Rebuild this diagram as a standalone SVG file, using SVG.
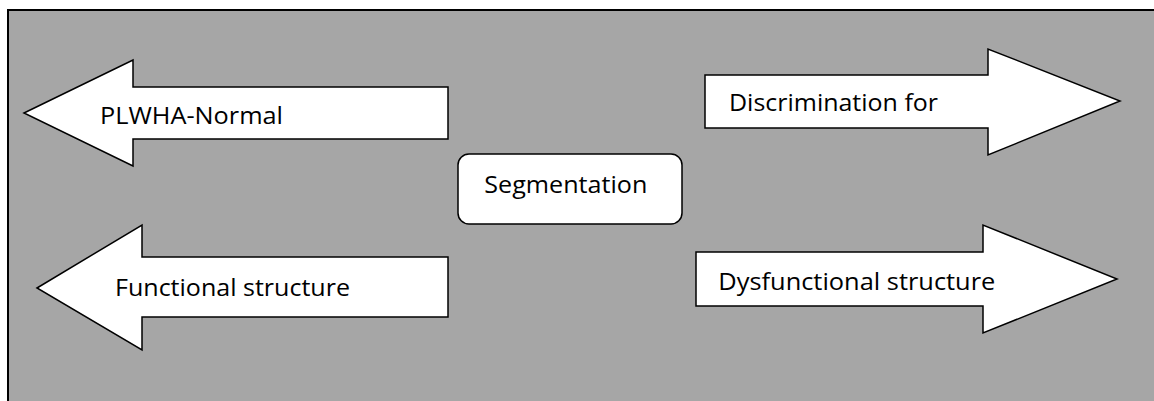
<svg xmlns="http://www.w3.org/2000/svg" width="1154" height="401" viewBox="0 0 1154 401">
<style>
.arrow{fill:#ffffff;stroke:#000000;stroke-width:1.5;stroke-linejoin:miter}
.lbl{font-family:"Open Sans","Liberation Sans",sans-serif;font-size:23px;fill:#000000}
</style>
<rect x="0" y="0" width="1154" height="401" fill="#ffffff"/>
<rect id="frame" x="8" y="10" width="1170" height="410" fill="#a6a6a6" stroke="#000000" stroke-width="2"/>
<g id="connectors"></g>
<g id="plwha-normal">
<polygon class="arrow" points="24,113 133,60 133,87 448,87 448,139 133,139 133,166"/>
<text class="lbl" x="100" y="123.5" textLength="183" lengthAdjust="spacingAndGlyphs">PLWHA-Normal</text>
</g>
<g id="functional-structure">
<polygon class="arrow" points="37,288 142,225 142,257 448,257 448,317 142,317 142,350"/>
<text class="lbl" x="115" y="296" textLength="235" lengthAdjust="spacingAndGlyphs">Functional structure</text>
</g>
<g id="segmentation">
<rect x="458" y="154" width="224" height="70" rx="11" ry="11" fill="#ffffff" stroke="#000000" stroke-width="1.5"/>
<text class="lbl" x="484.3" y="192.7" textLength="163" lengthAdjust="spacingAndGlyphs">Segmentation</text>
</g>
<g id="discrimination-for">
<polygon class="arrow" points="705,75 988,75 988,49 1120,101 988,155 988,128 705,128"/>
<text class="lbl" x="729" y="110.7" textLength="209" lengthAdjust="spacingAndGlyphs">Discrimination for</text>
</g>
<g id="dysfunctional-structure">
<polygon class="arrow" points="696,252 983,252 983,225 1117,279 983,333 983,306 696,306"/>
<text class="lbl" x="718.3" y="290" textLength="277" lengthAdjust="spacingAndGlyphs">Dysfunctional structure</text>
</g>
</svg>
